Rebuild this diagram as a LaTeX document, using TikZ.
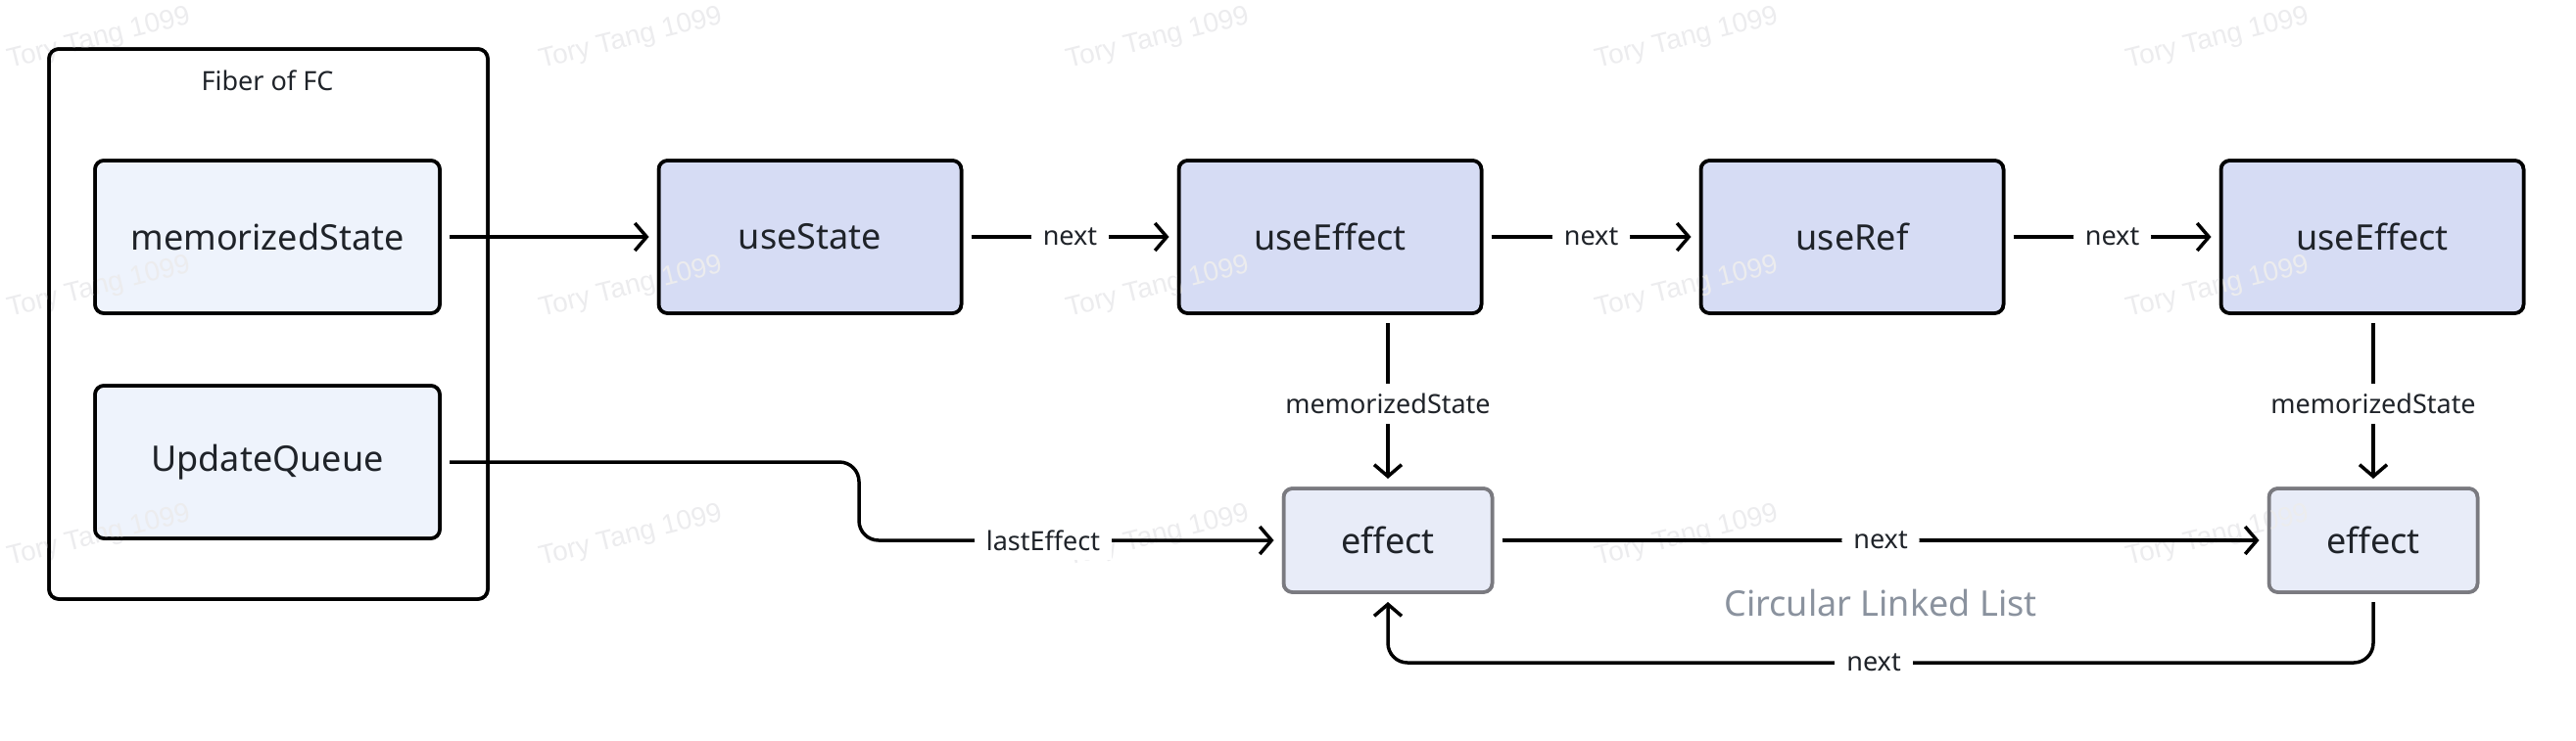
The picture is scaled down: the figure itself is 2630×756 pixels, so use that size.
\documentclass[tikz,border=0pt]{standalone}
\usepackage{fontspec}
\setmainfont{Noto Sans}
\newfontfamily\wmfont{Liberation Sans}
\usetikzlibrary{arrows.meta}
\definecolor{txt}{RGB}{31,35,41}
\definecolor{topfill}{RGB}{214,220,244}
\definecolor{fieldfill}{RGB}{238,243,252}
\definecolor{efffill}{RGB}{232,236,248}
\definecolor{effdraw}{RGB}{122,122,128}
\definecolor{capgray}{RGB}{138,146,158}
\definecolor{wm}{RGB}{236,236,238}
\tikzset{
  base/.style={rounded corners=9pt, line width=3.5pt, font=\fontsize{36}{40}\selectfont, text=txt, inner sep=0pt, outer sep=0pt},
  hookbox/.style={base, draw=black, fill=topfill, minimum width=309pt, minimum height=156pt},
  fieldbox/.style={base, draw=black, fill=fieldfill, minimum width=352pt, minimum height=156pt},
  effbox/.style={base, draw=effdraw, fill=efffill, minimum width=213pt, minimum height=106pt},
  frame/.style={draw=black, line width=3.5pt, rounded corners=10pt, minimum width=448pt, minimum height=562pt, inner sep=0pt, outer sep=0pt},
  lbl/.style={font=\fontsize{27}{30}\selectfont, text=txt, fill=white, inner xsep=12pt, inner ysep=10pt},
  conn/.style={line width=3.5pt, -{Straight Barb[length=12pt,width=28pt]}, rounded corners=20pt, shorten <=10pt, shorten >=10pt},
  wmark/.style={font=\wmfont\fontsize{28}{30}\selectfont, text=wm, rotate=14},
  rim/.style={line width=3.5pt, rounded corners=#1}
}
\begin{document}
\begin{tikzpicture}[x=1pt,y=-1pt]
\useasboundingbox (0,0) rectangle (2630,756);
% fiber
\node[frame] (fiber) at (274,331) {};
\node[font=\fontsize{27}{30}\selectfont, text=txt] (fibt) at (273,82) {Fiber of FC};
\node[fieldbox] (ms) at (273,242) {memorizedState};
\node[fieldbox] (uq) at (273,472) {UpdateQueue};
% hooks
\node[hookbox] (us) at (827,242) {useState};
\node[hookbox] (ue1) at (1358,242) {useEffect};
\node[hookbox] (ur) at (1891,242) {useRef};
\node[hookbox] (ue2) at (2422,242) {useEffect};
% effects
\node[effbox] (ef1) at (1417,552) {effect};
\node[effbox] (ef2) at (2423,552) {effect};
% watermarks
\foreach \i/\x in {1/101,2/644,3/1182,4/1722,5/2264}{
  \foreach \j/\y in {1/40,2/294,3/548}{
    \node[wmark] (wm\i\j) at (\x,\y) {Tory Tang 1099};
  }
}
% borders over the watermarks
\draw[rim=10pt, black] (fiber.south west) rectangle (fiber.north east);
\foreach \n in {ms,uq,us,ue1,ur,ue2}{
  \draw[rim=9pt, black] (\n.south west) rectangle (\n.north east);
}
\foreach \n in {ef1,ef2}{
  \draw[rim=9pt, effdraw] (\n.south west) rectangle (\n.north east);
}
\node[font=\fontsize{36}{40}\selectfont, text=capgray] (cll) at (1920,616) {Circular Linked List};
% connectors
\draw[conn] (ms) -- (us);
\draw[conn] (us) -- node[lbl] (n1) {next} (ue1);
\draw[conn] (ue1) -- node[lbl] (n2) {next} (ur);
\draw[conn] (ur) -- node[lbl] (n3) {next} (ue2);
\draw[conn] (ue1.south -| ef1) -- node[lbl, yshift=-3pt] (m1) {memorizedState} (ef1.north);
\draw[conn] (ue2.south -| ef2) -- node[lbl, yshift=-3pt] (m2) {memorizedState} (ef2.north);
\coordinate (bend) at (877,0);
\draw[conn] (uq.east) -- (uq.east -| bend) -- (bend |- ef1.west) -- (ef1.west);
\node[lbl] (le) at (1065,552) {lastEffect};
\draw[conn] (ef1) -- node[lbl] (n4) {next} (ef2);
\coordinate (loopy) at (0,677);
\draw[conn] (ef2.south) -- (ef2.south |- loopy) -- (ef1.south |- loopy) -- (ef1.south);
\node[lbl] (n5) at (1913,677) {next};
\end{tikzpicture}
\end{document}
